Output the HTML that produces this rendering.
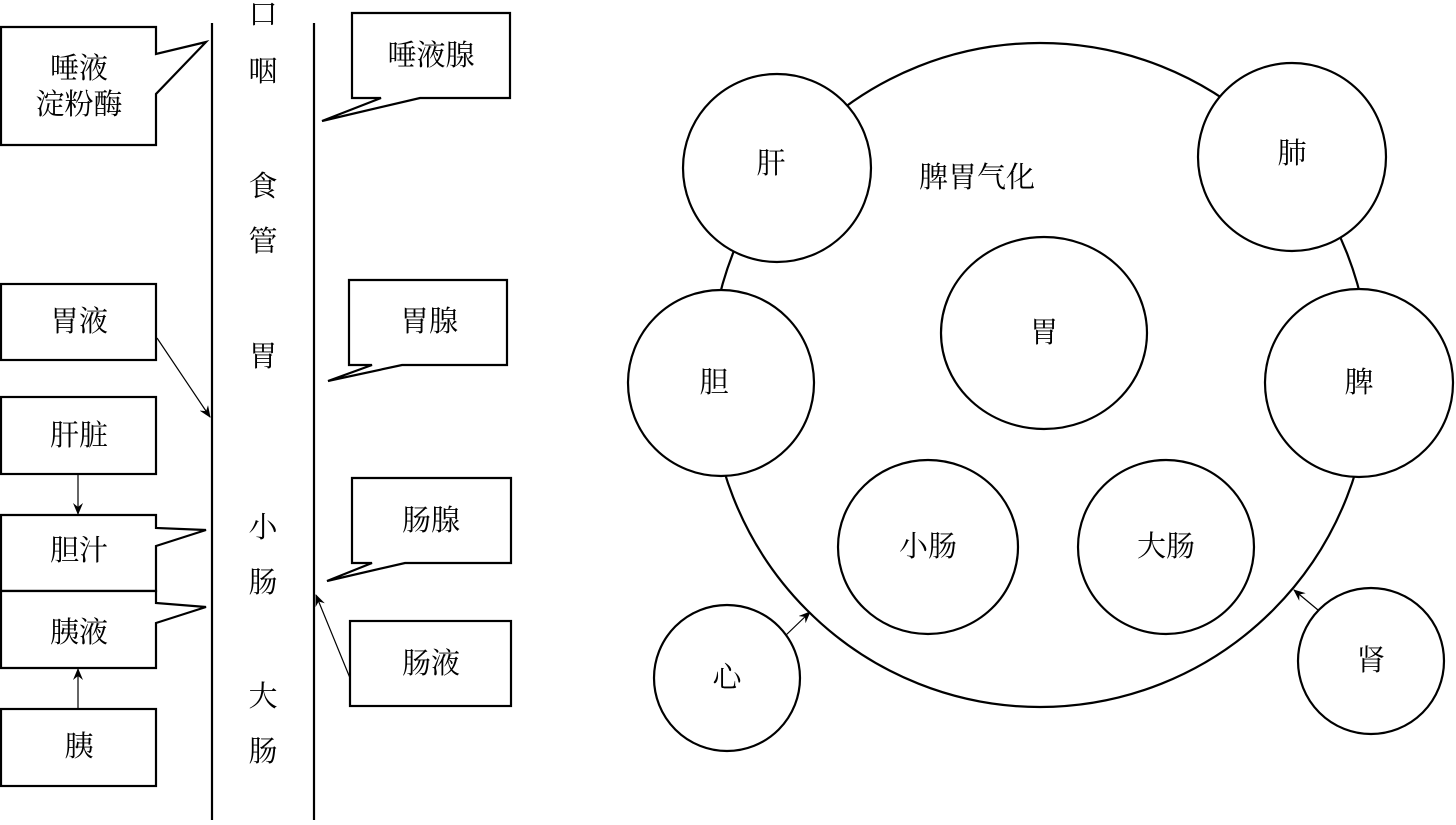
<!DOCTYPE html>
<html><head><meta charset="utf-8"><style>
html,body{margin:0;padding:0;background:#fff}
svg text{font-family:"Liberation Serif","Noto Serif CJK SC","Noto Sans CJK SC",serif;font-size:29px;fill:#000;text-anchor:middle;dominant-baseline:central}
</style></head><body>
<svg width="1456" height="820" viewBox="0 0 1456 820" xmlns="http://www.w3.org/2000/svg">
<defs><marker id="a" markerWidth="12" markerHeight="10" refX="11" refY="5" orient="auto" markerUnits="userSpaceOnUse"><path d="M0,0 L12,5 L0,10 L4,5 Z" fill="#000"/></marker></defs>
<g fill="#fff" stroke="#000" stroke-width="2.2">
<line x1="212" y1="23" x2="212" y2="820"/>
<line x1="314" y1="23" x2="314" y2="820"/>
<polygon points="1,27 156,27 156,54 206,42 156,94 156,145 1,145"/>
<polygon points="352,13 510,13 510,98 420,98 322,121 381,98 352,98"/>
<rect x="1" y="284" width="155" height="76"/>
<polygon points="349,280 507,280 507,365 402,365 328,381 372,365 349,365"/>
<rect x="1" y="397" width="155" height="77"/>
<polygon points="1,515 156,515 156,528 206,530 156,546 156,591 1,591"/>
<polygon points="1,591 156,591 156,603 206,607 156,623 156,668 1,668"/>
<rect x="1" y="709" width="155" height="77"/>
<polygon points="352,478 511,478 511,563 405,563 327,581 372,563 352,563"/>
<rect x="350" y="621" width="161" height="85"/>
</g>
<g stroke="#000" stroke-width="1.2" fill="none" marker-end="url(#a)">
<line x1="157" y1="338" x2="210" y2="417"/>
<line x1="78" y1="474" x2="78" y2="514"/>
<line x1="78" y1="709" x2="78" y2="669"/>
<line x1="350" y1="678" x2="316" y2="595"/>
<line x1="785" y1="636" x2="810" y2="612"/>
<line x1="1318" y1="610" x2="1294" y2="590"/>
</g>
<text x="79" y="69">唾液</text><text x="79" y="105">淀粉酶</text>
<text x="431" y="56">唾液腺</text>
<text x="79" y="322">胃液</text>
<text x="429" y="322">胃腺</text>
<text x="79" y="436">肝脏</text>
<text x="79" y="551">胆汁</text>
<text x="79" y="633">胰液</text>
<text x="79" y="747">胰</text>
<text x="431" y="521">肠腺</text>
<text x="431" y="664">肠液</text>
<text x="263" y="15">口</text><text x="263" y="72">咽</text>
<text x="263" y="187">食</text><text x="263" y="242">管</text>
<text x="263" y="357">胃</text>
<text x="263" y="528">小</text><text x="263" y="583">肠</text>
<text x="263" y="697">大</text><text x="263" y="752">肠</text>
<g fill="#fff" stroke="#000" stroke-width="2.2">
<ellipse cx="1040" cy="375" rx="330" ry="332"/>
<circle cx="777" cy="168" r="94"/>
<circle cx="1292" cy="157" r="94"/>
<circle cx="721" cy="383" r="93"/>
<circle cx="1359" cy="383" r="94"/>
<ellipse cx="1044" cy="333" rx="103" ry="96"/>
<ellipse cx="928" cy="547" rx="90" ry="87"/>
<ellipse cx="1166" cy="547" rx="88" ry="87"/>
<ellipse cx="727" cy="678" rx="73" ry="73"/>
<ellipse cx="1371" cy="661" rx="73" ry="73"/>
</g>
<text x="977" y="178">脾胃气化</text>
<text x="771" y="164">肝</text>
<text x="1292" y="154">肺</text>
<text x="714" y="383">胆</text>
<text x="1359" y="383">脾</text>
<text x="1044" y="333">胃</text>
<text x="928" y="547">小肠</text>
<text x="1166" y="547">大肠</text>
<text x="727" y="678">心</text>
<text x="1371" y="661">肾</text>
</svg>
</body></html>
